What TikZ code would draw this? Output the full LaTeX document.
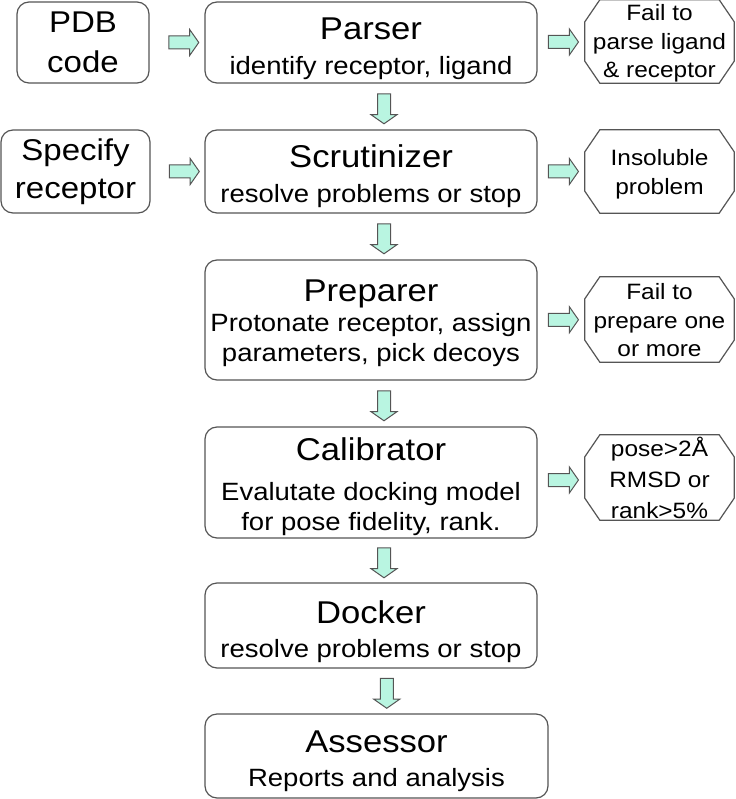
\documentclass[tikz,border=0pt]{standalone}
\usepackage{fontspec}
\setmainfont[FakeStretch=1.1]{Liberation Sans}
\usetikzlibrary{shapes.arrows,calc}
\definecolor{edgegray}{RGB}{85,85,85}
\definecolor{arrowfill}{RGB}{185,245,225}
\newcommand{\ttl}{\fontsize{31.5}{30}\selectfont}
\newcommand{\topstrut}[1]{\rule{0pt}{#1pt}}
\tikzset{
  outline/.style={draw=edgegray, line width=1.2pt},
  stage/.style={outline, rounded corners=12pt, fill=white, minimum width=332, inner sep=0pt, align=center, font=\fontsize{25}{30}\selectfont},
  input/.style={outline, rounded corners=12pt, fill=white, minimum width=132, minimum height=81, inner sep=0pt, align=center, font=\fontsize{30}{38}\selectfont},
  fail/.style={minimum width=149, minimum height=83, inner sep=0pt, align=center, font=\fontsize{22.2}{28.5}\selectfont},
  flow/.style={single arrow, draw=edgegray, line width=1pt, fill=arrowfill, minimum height=30, inner xsep=0pt, inner ysep=6pt, single arrow head extend=6.5pt, single arrow tip angle=110},
}

\begin{document}
\begin{tikzpicture}[x=1pt,y=-1pt]
  \useasboundingbox (0,0) rectangle (735,799);

  % main column
  \node[stage, minimum height=81] (parser) at (371,42.5) {\topstrut{34}{\ttl Parser}\\[5pt]identify receptor, ligand};
  \node[stage, minimum height=83] (scrut) at (371,171.5) {\topstrut{32}{\ttl Scrutinizer}\\[5pt]resolve problems or stop};
  \node[stage, minimum height=120] (prep) at (371,320) {\topstrut{29}{\ttl Preparer}\\Protonate receptor, assign\\parameters, pick decoys};
  \node[stage, minimum height=111] (calib) at (371,482.5) {\topstrut{31}{\ttl Calibrator}\\[10pt]Evalutate docking model\\for pose fidelity, rank.};
  \node[stage, minimum height=85] (dock) at (371,625.5) {\topstrut{35}{\ttl Docker}\\[4pt]resolve problems or stop};
  \node[stage, minimum height=84, minimum width=343] (assess) at (376.5,756) {\topstrut{33}{\ttl Assessor}\\[4pt]Reports and analysis};

  % inputs
  \node[input] (pdb) at (83,42.5) {PDB\\[2pt]code};
  \node[input, minimum width=149, minimum height=83] (spec) at (75.5,171.5) {Specify\\receptor};

  % failures
  \node[fail] (noparse) at (659.5,41.5) {\topstrut{20}Fail to\\parse ligand\\\& receptor};
  \node[fail] (insol) at (659.5,171.5) {\topstrut{22}Insoluble\\problem};
  \node[fail, minimum height=85] (noprep) at (659.5,319.5) {\topstrut{18}Fail to\\prepare one\\or more};
  \node[fail, minimum height=85] (badpose) at (659.5,477.5) {pose>2Å\\[2.5pt]RMSD or\\[2.5pt]rank>5\%};
  \foreach \n in {noparse,insol,noprep,badpose}{
    \draw[outline] ($(\n.north west)+(15,0)$) -- ($(\n.north east)+(-15,0)$) -- ($(\n.north east)+(0,22)$)
      -- ($(\n.south east)+(0,-22)$) -- ($(\n.south east)+(-15,0)$) -- ($(\n.south west)+(15,0)$)
      -- ($(\n.south west)+(0,-22)$) -- ($(\n.north west)+(0,22)$) -- cycle;
  }

  % block arrows
  \foreach \a/\b/\n in {pdb/parser/in1, spec/scrut/in2}{
    \node[flow] (\n) at ($(\a.east)!0.5!(\b.west)+(4.5,0)$) {};
  }
  \foreach \a/\b/\n in {parser/noparse/out1, scrut/insol/out2, prep/noprep/out3, calib/badpose/out4}{
    \node[flow] (\n) at ($(\a.east)!0.5!(\b.west)$) {};
  }
  \foreach \a/\b/\n in {parser/scrut/dn1, scrut/prep/dn2, prep/calib/dn3, calib/dock/dn4, dock/assess/dn5}{
    \node[flow, rotate=-90] (\n) at ($(\a.south)!0.5!(\b.north)+(13,0)$) {};
  }
\end{tikzpicture}
\end{document}
